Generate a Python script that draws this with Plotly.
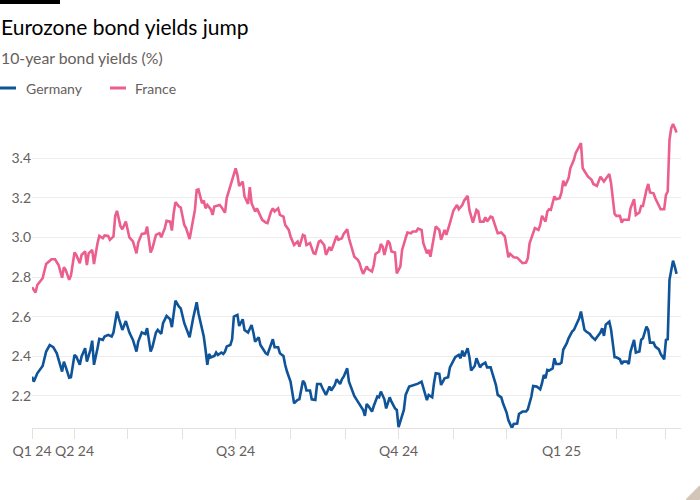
import plotly.graph_objects as go

# ---------------- data ----------------
de_dates = [
 "2024-03-08","2024-03-09","2024-03-11","2024-03-14","2024-03-16","2024-03-18","2024-03-20","2024-03-22","2024-03-25","2024-03-26","2024-03-27","2024-03-29","2024-03-30",
 "2024-04-01","2024-04-02","2024-04-04","2024-04-05","2024-04-07","2024-04-08","2024-04-10","2024-04-11","2024-04-12","2024-04-14","2024-04-15","2024-04-17","2024-04-18","2024-04-20","2024-04-22","2024-04-23","2024-04-25","2024-04-26","2024-04-28","2024-04-30",
 "2024-05-02","2024-05-04","2024-05-06","2024-05-07","2024-05-09","2024-05-11","2024-05-12","2024-05-14","2024-05-15","2024-05-17","2024-05-18","2024-05-20","2024-05-21","2024-05-23","2024-05-25","2024-05-26","2024-05-27","2024-05-28","2024-05-30","2024-05-31",
 "2024-06-02","2024-06-05","2024-06-07","2024-06-08","2024-06-09","2024-06-10","2024-06-12","2024-06-13","2024-06-14","2024-06-15","2024-06-16","2024-06-17","2024-06-19","2024-06-20","2024-06-21","2024-06-23","2024-06-24","2024-06-25","2024-06-26","2024-06-28","2024-06-29","2024-06-30",
 "2024-07-02","2024-07-03","2024-07-05","2024-07-06","2024-07-08","2024-07-10","2024-07-11","2024-07-12","2024-07-14","2024-07-15","2024-07-17","2024-07-18","2024-07-19","2024-07-21","2024-07-22","2024-07-23","2024-07-25","2024-07-26","2024-07-28","2024-07-29","2024-07-30",
 "2024-08-01","2024-08-02","2024-08-03","2024-08-05","2024-08-06","2024-08-08","2024-08-09","2024-08-10","2024-08-12","2024-08-13","2024-08-15","2024-08-16","2024-08-18","2024-08-19","2024-08-21","2024-08-23","2024-08-24","2024-08-26","2024-08-27","2024-08-29","2024-08-30","2024-08-31",
 "2024-09-02","2024-09-03","2024-09-05","2024-09-06","2024-09-08","2024-09-09","2024-09-11","2024-09-12","2024-09-13","2024-09-14","2024-09-16","2024-09-17","2024-09-19","2024-09-20","2024-09-21","2024-09-23","2024-09-24","2024-09-26","2024-09-27","2024-09-29","2024-09-30",
 "2024-10-01","2024-10-03","2024-10-04","2024-10-05","2024-10-07","2024-10-08","2024-10-10","2024-10-11","2024-10-12","2024-10-14","2024-10-15","2024-10-17","2024-10-18","2024-10-20","2024-10-21","2024-10-22","2024-10-24","2024-10-25","2024-10-27","2024-10-29","2024-10-30",
 "2024-11-01","2024-11-02","2024-11-04","2024-11-05","2024-11-06","2024-11-07","2024-11-09","2024-11-10","2024-11-11","2024-11-13","2024-11-14","2024-11-16","2024-11-17","2024-11-19","2024-11-20","2024-11-22","2024-11-23","2024-11-25","2024-11-26","2024-11-28","2024-11-29",
 "2024-12-01","2024-12-02","2024-12-04","2024-12-05","2024-12-07","2024-12-08","2024-12-10","2024-12-12","2024-12-13","2024-12-15","2024-12-16","2024-12-18","2024-12-20","2024-12-21","2024-12-22","2024-12-23","2024-12-24","2024-12-25","2024-12-27","2024-12-28","2024-12-29","2024-12-31",
 "2025-01-01","2025-01-02","2025-01-04","2025-01-05","2025-01-07","2025-01-08","2025-01-10","2025-01-11","2025-01-12","2025-01-14","2025-01-15","2025-01-17","2025-01-18","2025-01-20","2025-01-21","2025-01-23","2025-01-24","2025-01-25","2025-01-26","2025-01-28","2025-01-29","2025-01-30","2025-01-31",
 "2025-02-01","2025-02-03","2025-02-04","2025-02-05","2025-02-07","2025-02-08","2025-02-09","2025-02-11","2025-02-12","2025-02-14","2025-02-15","2025-02-16","2025-02-18","2025-02-19","2025-02-20","2025-02-22","2025-02-23","2025-02-25","2025-02-26","2025-02-28",
 "2025-03-01","2025-03-02","2025-03-03","2025-03-04","2025-03-05","2025-03-06","2025-03-07"]

de_yield = [
 2.297,2.272,2.314,2.351,2.424,2.457,2.446,2.415,2.323,2.373,2.348,2.292,2.294,
 2.407,2.399,2.357,2.399,2.441,2.373,2.433,2.479,2.357,2.441,2.488,2.483,2.5,2.508,2.5,2.52,2.626,2.592,2.533,2.578,
 2.52,2.483,2.424,2.474,2.52,2.513,2.542,2.424,2.446,2.52,2.533,2.513,2.567,2.604,2.587,2.547,2.617,2.681,2.651,2.642,
 2.567,2.496,2.592,2.634,2.673,2.617,2.547,2.5,2.433,2.357,2.412,2.395,2.402,2.419,2.407,2.419,2.412,2.424,2.45,2.457,2.486,2.6,
 2.609,2.553,2.587,2.533,2.52,2.558,2.52,2.474,2.496,2.457,2.429,2.415,2.41,2.466,2.486,2.446,2.446,2.415,2.402,2.356,2.323,
 2.272,2.217,2.163,2.18,2.183,2.277,2.264,2.227,2.227,2.183,2.18,2.26,2.26,2.24,2.205,2.247,2.227,2.255,2.284,2.26,2.284,2.297,
 2.339,2.272,2.217,2.2,2.171,2.159,2.129,2.099,2.159,2.149,2.121,2.149,2.197,2.193,2.222,2.183,2.137,2.193,2.171,2.137,2.129,
 2.042,2.095,2.129,2.205,2.247,2.25,2.255,2.258,2.262,2.272,2.238,2.179,2.205,2.193,2.264,2.314,2.311,2.255,2.289,2.294,2.344,
 2.382,2.396,2.407,2.39,2.429,2.399,2.441,2.396,2.328,2.351,2.39,2.344,2.357,2.368,2.344,2.344,2.314,2.255,2.205,2.193,2.163,
 2.116,2.078,2.038,2.058,2.06,2.109,2.121,2.121,2.132,2.197,2.25,2.247,2.233,2.264,2.306,2.289,2.331,2.328,2.339,2.39,2.361,2.361,
 2.368,2.433,2.466,2.491,2.525,2.533,2.567,2.592,2.626,2.533,2.525,2.513,2.5,2.483,2.496,2.52,2.542,2.503,2.56,2.575,2.535,2.475,2.395,
 2.395,2.385,2.361,2.373,2.373,2.361,2.424,2.483,2.419,2.424,2.483,2.491,2.55,2.533,2.469,2.469,2.449,2.435,2.412,2.385,
 2.483,2.486,2.786,2.845,2.883,2.853,2.816]

fr_dates = [
 "2024-03-08","2024-03-10","2024-03-11","2024-03-14","2024-03-16","2024-03-19","2024-03-21","2024-03-23","2024-03-25","2024-03-26","2024-03-27","2024-03-29","2024-03-30",
 "2024-04-01","2024-04-02","2024-04-04","2024-04-05","2024-04-07","2024-04-08","2024-04-09","2024-04-11","2024-04-12","2024-04-14","2024-04-15","2024-04-17","2024-04-18","2024-04-20","2024-04-21","2024-04-23","2024-04-24","2024-04-25","2024-04-27","2024-04-28","2024-04-30",
 "2024-05-02","2024-05-04","2024-05-06","2024-05-07","2024-05-09","2024-05-11","2024-05-12","2024-05-14","2024-05-15","2024-05-17","2024-05-19","2024-05-20","2024-05-22","2024-05-23","2024-05-25","2024-05-26","2024-05-27","2024-05-28","2024-05-30","2024-05-31",
 "2024-06-02","2024-06-03","2024-06-05","2024-06-06","2024-06-08","2024-06-09","2024-06-10","2024-06-12","2024-06-13","2024-06-14","2024-06-15","2024-06-17","2024-06-18","2024-06-19","2024-06-20","2024-06-22","2024-06-23","2024-06-25","2024-06-26","2024-06-28","2024-06-29",
 "2024-07-01","2024-07-02","2024-07-03","2024-07-05","2024-07-06","2024-07-08","2024-07-09","2024-07-10","2024-07-12","2024-07-13","2024-07-15","2024-07-16","2024-07-18","2024-07-19","2024-07-21","2024-07-22","2024-07-23","2024-07-25","2024-07-26","2024-07-28","2024-07-29","2024-07-31",
 "2024-08-01","2024-08-03","2024-08-05","2024-08-06","2024-08-08","2024-08-09","2024-08-10","2024-08-12","2024-08-14","2024-08-15","2024-08-17","2024-08-18","2024-08-20","2024-08-21","2024-08-23","2024-08-24","2024-08-25","2024-08-27","2024-08-28","2024-08-30","2024-08-31",
 "2024-09-02","2024-09-03","2024-09-05","2024-09-06","2024-09-08","2024-09-09","2024-09-10","2024-09-11","2024-09-13","2024-09-14","2024-09-16","2024-09-17","2024-09-18","2024-09-20","2024-09-21","2024-09-22","2024-09-23","2024-09-25","2024-09-26","2024-09-27","2024-09-29","2024-09-30",
 "2024-10-02","2024-10-03","2024-10-05","2024-10-06","2024-10-08","2024-10-09","2024-10-11","2024-10-12","2024-10-14","2024-10-15","2024-10-17","2024-10-18","2024-10-19","2024-10-21","2024-10-22","2024-10-24","2024-10-25","2024-10-27","2024-10-28","2024-10-30","2024-10-31",
 "2024-11-01","2024-11-03","2024-11-04","2024-11-06","2024-11-07","2024-11-09","2024-11-10","2024-11-12","2024-11-14","2024-11-15","2024-11-16","2024-11-18","2024-11-19","2024-11-20","2024-11-22","2024-11-23","2024-11-25","2024-11-26","2024-11-28","2024-11-30",
 "2024-12-01","2024-12-02","2024-12-03","2024-12-05","2024-12-07","2024-12-09","2024-12-10","2024-12-12","2024-12-13","2024-12-14","2024-12-16","2024-12-17","2024-12-19","2024-12-20","2024-12-21","2024-12-23","2024-12-24","2024-12-25","2024-12-26","2024-12-28","2024-12-29","2024-12-31",
 "2025-01-01","2025-01-02","2025-01-03","2025-01-05","2025-01-06","2025-01-08","2025-01-09","2025-01-11","2025-01-12","2025-01-13","2025-01-15","2025-01-16","2025-01-18","2025-01-19","2025-01-21","2025-01-22","2025-01-23","2025-01-25","2025-01-26","2025-01-28","2025-01-29","2025-01-30","2025-01-31",
 "2025-02-01","2025-02-03","2025-02-04","2025-02-05","2025-02-06","2025-02-08","2025-02-09","2025-02-11","2025-02-12","2025-02-14","2025-02-15","2025-02-16","2025-02-18","2025-02-19","2025-02-20","2025-02-22","2025-02-23","2025-02-25","2025-02-26","2025-02-28",
 "2025-03-01","2025-03-02","2025-03-03","2025-03-04","2025-03-05","2025-03-06","2025-03-07"]

fr_yield = [
 2.749,2.722,2.76,2.794,2.866,2.89,2.89,2.861,2.797,2.85,2.836,2.786,2.808,
 2.924,2.912,2.87,2.912,2.929,2.861,2.92,2.937,2.866,2.971,3.008,2.996,3.01,3.008,2.988,3.005,3.109,3.134,3.055,3.041,3.08,
 3.0,2.98,2.92,2.974,3.018,3.021,3.055,2.924,2.945,3.013,3.021,3.001,3.047,3.084,3.08,3.035,3.122,3.178,3.156,3.151,
 3.063,3.047,2.992,3.047,3.139,3.24,3.243,3.173,3.186,3.147,3.164,3.142,3.114,3.156,3.159,3.164,3.153,3.125,3.2,3.265,3.291,
 3.349,3.316,3.26,3.282,3.207,3.169,3.254,3.173,3.131,3.147,3.109,3.089,3.075,3.072,3.131,3.147,3.131,3.147,3.114,3.105,3.063,3.038,
 3.005,2.962,2.979,2.954,3.013,3.008,2.962,2.971,2.92,2.917,2.979,2.984,2.962,2.912,2.951,2.934,2.957,3.008,2.988,2.996,3.018,
 3.041,2.996,2.929,2.903,2.887,2.87,2.839,2.816,2.853,2.839,2.828,2.861,2.917,2.929,2.967,2.954,2.912,2.984,2.971,2.929,2.924,2.819,
 2.853,2.937,2.996,3.025,3.021,3.03,3.03,3.045,3.038,2.971,2.92,2.937,2.903,3.013,3.055,3.038,2.988,3.038,3.013,3.072,3.109,
 3.136,3.164,3.142,3.164,3.186,3.21,3.139,3.075,3.139,3.131,3.08,3.08,3.102,3.08,3.105,3.102,3.041,3.021,3.025,3.005,
 2.955,2.9,2.917,2.9,2.898,2.878,2.87,2.873,2.895,2.971,3.03,3.047,3.038,3.063,3.109,3.08,3.131,3.142,3.139,3.207,3.193,3.198,
 3.227,3.287,3.26,3.299,3.349,3.392,3.425,3.456,3.476,3.349,3.321,3.307,3.291,3.27,3.26,3.287,3.307,3.282,3.294,3.321,3.274,3.204,3.119,
 3.109,3.109,3.075,3.089,3.089,3.089,3.147,3.193,3.114,3.126,3.159,3.159,3.24,3.27,3.227,3.223,3.198,3.156,3.142,3.142,
 3.215,3.232,3.493,3.552,3.573,3.552,3.53]

x_tick_dates = ["2024-03-08","2024-04-01","2024-05-01","2024-06-01","2024-07-01","2024-08-01",
                "2024-09-01","2024-10-01","2024-11-01","2024-12-01","2025-01-01","2025-02-01","2025-03-01"]
x_tick_labels = ["Q1 24","Q2 24","","","Q3 24","","","Q4 24","","","Q1 25","",""]
y_tick_values = [2.2, 2.4, 2.6, 2.8, 3.0, 3.2, 3.4]
y_tick_labels = ["2.2", "2.4", "2.6", "2.8", "3.0", "3.2", "3.4"]

series_names = ["Germany", "France"]
series_colors = ["#0F5499", "#EB5E8D"]

# ---------------- layout geometry ----------------
W, H = 700, 500
ML, MR, MT, MB = 32, 19, 119, 72
PW, PH = W - ML - MR, H - MT - MB


def px(x):
    return round((x - ML) / PW, 5)


def py(y):
    return round((H - MB - y) / PH, 5)


FONT = "Lato, 'Open Sans', sans-serif"
GREY = "#66605C"

fig = go.Figure()
fig.add_trace(go.Scatter(x=de_dates, y=de_yield, mode="lines", name=series_names[0],
                         line=dict(color=series_colors[0], width=2.6), showlegend=False))
fig.add_trace(go.Scatter(x=fr_dates, y=fr_yield, mode="lines", name=series_names[1],
                         line=dict(color=series_colors[1], width=2.6), showlegend=False))

shapes = [
    # black bar top-left
    dict(type="rect", xref="paper", yref="paper", x0=px(0), x1=px(60), y0=py(4), y1=py(0),
         fillcolor="#000000", line=dict(width=0), layer="above"),
    # legend swatches
    dict(type="line", xref="paper", yref="paper", x0=px(0), x1=px(16), y0=py(88), y1=py(88),
         line=dict(color=series_colors[0], width=3)),
    dict(type="line", xref="paper", yref="paper", x0=px(110), x1=px(126), y0=py(88), y1=py(88),
         line=dict(color=series_colors[1], width=3)),
    # corner decoration (small beige triangle, bottom right)
    dict(type="path", xref="paper", yref="paper",
         path="M {} {} L {} {} L {} {} Z".format(px(686), py(499.5), px(699.5), py(486), px(699.5), py(499.5)),
         fillcolor="#D3C6B8", line=dict(color="#D3C6B8", width=1), layer="above"),
]

annotations = [
    dict(text="Eurozone bond yields jump", xref="paper", yref="paper", x=px(-1), y=py(26),
         xanchor="left", yanchor="middle", showarrow=False,
         font=dict(family=FONT, size=21, color="#000000")),
    dict(text="10-year bond yields (%)", xref="paper", yref="paper", x=px(-1), y=py(57.5),
         xanchor="left", yanchor="middle", showarrow=False,
         font=dict(family=FONT, size=15.8, color=GREY)),
    dict(text=series_names[0], xref="paper", yref="paper", x=px(24), y=py(88),
         xanchor="left", yanchor="middle", showarrow=False,
         font=dict(family=FONT, size=14, color=GREY)),
    dict(text=series_names[1], xref="paper", yref="paper", x=px(133), y=py(88),
         xanchor="left", yanchor="middle", showarrow=False,
         font=dict(family=FONT, size=14, color=GREY)),
]

fig.update_layout(
    width=W, height=H, autosize=False,
    margin=dict(l=ML, r=MR, t=MT, b=MB, pad=0),
    paper_bgcolor="#FFFFFF", plot_bgcolor="#FFFFFF",
    font=dict(family=FONT, size=14, color=GREY),
    showlegend=False,
    shapes=shapes, annotations=annotations,
    xaxis=dict(type="date", range=["2024-03-08", "2025-03-09 12:00"],
               tickmode="array", tickvals=x_tick_dates, ticktext=x_tick_labels,
               showgrid=False, zeroline=False,
               showline=True, linecolor="#E3E1DF", linewidth=1,
               ticks="outside", ticklen=10, tickcolor="#E3E1DF", tickwidth=1,
               tickfont=dict(family=FONT, size=14, color=GREY), automargin=False),
    yaxis=dict(range=[2.038, 3.598], tickmode="array", tickvals=y_tick_values,
               ticktext=y_tick_labels, showgrid=True, gridcolor="#EEEDEC", gridwidth=1,
               zeroline=False, showline=False, ticks="",
               tickfont=dict(family=FONT, size=14, color=GREY), automargin=False),
)

fig.write_html("out.html", config={"displayModeBar": False},
               post_script="document.body.style.margin='0';document.body.style.padding='0';document.body.style.overflow='hidden';")
